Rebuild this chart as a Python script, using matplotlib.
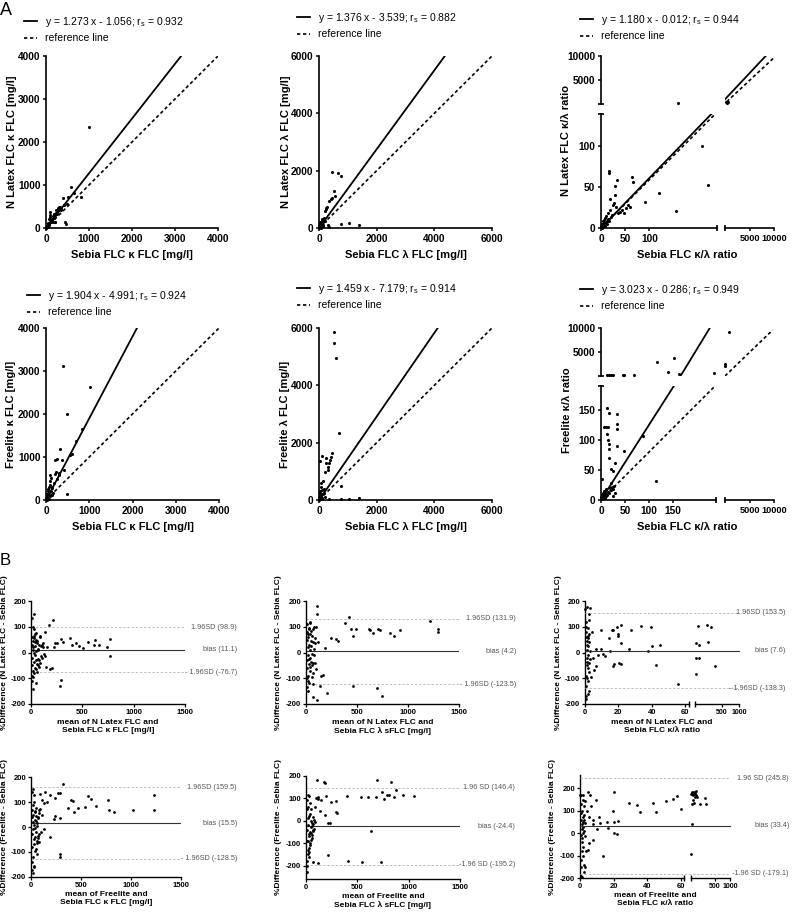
import numpy as np
import matplotlib
matplotlib.use('Agg')
import matplotlib.pyplot as plt
from matplotlib.lines import Line2D
from matplotlib.ticker import NullLocator
from matplotlib.transforms import blended_transform_factory

plt.rcParams['font.family'] = ['Liberation Sans', 'DejaVu Sans']
plt.rcParams['mathtext.fontset'] = 'custom'
plt.rcParams['mathtext.rm'] = 'Liberation Sans'
plt.rcParams['mathtext.it'] = 'Liberation Sans:italic'
plt.rcParams['mathtext.bf'] = 'Liberation Sans:bold'

W, H = 795, 915

# ---------------- A: method comparison (slope, intercept, r_s) ----------------
p1_eq = (1.273, -1.056, 0.932)
p2_eq = (1.376, -3.539, 0.882)
p3_eq = (1.180, -0.012, 0.944)
p4_eq = (1.904, -4.991, 0.924)
p5_eq = (1.459, -7.179, 0.914)
p6_eq = (3.023, -0.286, 0.949)

# N Latex vs Sebia, kappa
p1_x = [5, 8, 12, 15, 18, 22, 25, 30, 35, 40, 45, 50, 55, 60, 65, 70, 75, 80, 85, 90,
        95, 100, 110, 120, 130, 140, 150, 160, 170, 180, 190, 200, 210, 220, 230, 240, 250, 260, 270, 280,
        290, 300, 320, 340, 360, 400, 420, 450, 455, 480, 520, 570, 650, 820, 1000]
p1_y = [10, 5, 20, 12, 30, 15, 40, 25, 50, 60, 35, 80, 120, 70, 90, 110, 200, 95, 250, 370,
        300, 140, 130, 175, 160, 190, 210, 150, 280, 240, 330, 300, 150, 130, 350, 420, 380, 330, 450, 410,
        470, 480, 500, 460, 420, 690, 530, 130, 100, 560, 730, 960, 820, 720, 2350]

# N Latex vs Sebia, lambda
p2_x = [5, 10, 15, 20, 25, 30, 40, 50, 60, 70, 80, 90, 100, 110, 120, 130, 150, 160, 180, 200,
        210, 240, 260, 290, 300, 360, 400, 450, 460, 520, 560, 670, 750, 750, 1030, 1370, 150, 360, 30, 60]
p2_y = [20, 60, 10, 150, 40, 100, 30, 200, 80, 120, 50, 250, 180, 130, 300, 90, 60, 320, 350, 250,
        600, 700, 650, 730, 90, 930, 1010, 1050, 1970, 1300, 1130, 1910, 1830, 150, 175, 95, 60, 35, 180, 5]

# N Latex vs Sebia, ratio (broken axes)
p3_x = [0.5, 1, 1.5, 2, 3, 4, 5, 6, 7, 8, 9, 10, 11, 12, 13, 14, 15, 16, 17, 17,
        18, 19, 20, 22, 24, 26, 28, 29, 30, 34, 36, 40, 44, 48, 52, 56, 60, 64, 66, 92,
        120, 156, 208, 221]
p3_y = [1, 3, 0.5, 5, 2, 8, 4, 10, 6, 3, 12, 7, 15, 9, 5, 18, 11, 8, 70, 67,
        22, 35, 14, 16, 28, 30, 40, 51, 25, 59, 18, 20, 22, 18, 24, 28, 26, 62, 56, 32,
        43, 21, 100, 52]
p3_ul_x = [159]
p3_ul_y = [300]
p3_ur_x = [150, 400, 700]
p3_ur_y = [500, 300, 400]
p3_fit_lo = ([0, 230], [0, 140])
p3_fit_hi = ([0, 8300], [980, 10000])
p3_ref_lo = ([0, 238], [0, 140])
p3_ref_hi = ([350, 9860], [480, 9520])

# Freelite vs Sebia, kappa
p4_x = [5, 8, 12, 15, 20, 25, 30, 35, 40, 50, 60, 70, 80, 90, 95, 100, 110, 120, 130, 150,
        160, 180, 200, 210, 230, 250, 260, 290, 300, 330, 380, 400, 410, 480, 480, 560, 590, 690, 840, 1010,
        70, 100, 140]
p4_y = [15, 40, 8, 60, 100, 30, 150, 200, 50, 250, 120, 300, 180, 450, 580, 360, 520, 200, 270, 300,
        160, 400, 610, 940, 640, 950, 500, 570, 620, 1180, 930, 3110, 700, 2000, 130, 1040, 1070, 1370, 1640, 2630,
        20, 90, 120]

# Freelite vs Sebia, lambda
p5_x = [5, 10, 15, 20, 25, 30, 35, 40, 50, 60, 70, 80, 90, 100, 110, 120, 150, 170, 180, 210,
        240, 250, 300, 320, 350, 380, 400, 450, 510, 530, 600, 700, 760, 750, 1040, 1380, 360, 60, 120, 200]
p5_y = [30, 100, 10, 200, 60, 300, 120, 1350, 250, 460, 150, 580, 80, 350, 200, 1550, 670, 250, 400, 990,
        1450, 1280, 1160, 1040, 1300, 1390, 1510, 1640, 5850, 5460, 4940, 2320, 500, 45, 50, 80, 45, 20, 40, 100]

# Freelite vs Sebia, ratio (broken axes)
p6_x = [0.5, 1, 2, 3, 4, 5, 6, 7, 8, 9, 10, 11, 12, 14, 16, 18, 20, 22, 25, 28,
        2, 6, 10, 14, 13, 16, 34, 13, 34, 33, 15, 17, 17, 34, 48, 87, 17, 21, 24, 29,
        20, 114, 24, 30]
p6_y = [2, 5, 1, 8, 3, 12, 6, 15, 4, 10, 7, 18, 9, 14, 11, 20, 16, 22, 18, 24,
        35, 122, 122, 122, 154, 145, 143, 110, 127, 118, 100, 93, 85, 90, 82, 107, 70, 51, 49, 62,
        28, 32, 6, 12]
p6_ul_x = [12, 17, 21, 26, 45, 49, 69, 117, 153, 139, 163, 235]
p6_ul_y = [300, 300, 300, 300, 300, 300, 250, 2980, 3690, 830, 350, 560]
p6_ur_x = [816, 60, 60]
p6_ur_y = [9170, 2430, 2150]
p6_fit_lo = ([0, 152], [0, 190])
p6_fit_ul = ([166, 227], [0, 10000])
p6_ref_lo = ([0, 238], [0, 190])
p6_ref_hi = ([0, 9730], [0, 9580])

# ---------------- B: Bland-Altman (bias, +1.96SD, -1.96SD) ----------------
p7_stats = (11.1, 98.9, -76.7)
p8_stats = (4.2, 131.9, -123.5)
p9_stats = (7.6, 153.5, -138.3)
p10_stats = (15.5, 159.5, -128.5)
p11_stats = (-24.4, 146.4, -195.2)
p12_stats = (33.4, 245.8, -179.1)

p7_x = [5, 8, 10, 12, 15, 18, 20, 22, 25, 28, 30, 32, 35, 38, 40, 42, 45, 48, 50, 55,
        60, 65, 70, 75, 80, 85, 90, 95, 100, 110, 120, 6, 9, 14, 17, 24, 27, 33, 36, 44,
        52, 58, 62, 68, 72, 78, 88, 105, 115, 125, 32, 20, 45, 140, 172, 211, 150, 188, 200, 220,
        250, 292, 310, 379, 395, 434, 463, 502, 551, 609, 620, 667, 745, 771, 771, 295, 285, 135, 160, 230]
p7_y = [60, -20, 30, -50, 10, 45, -70, 20, 55, -35, 0, 65, -10, 40, -60, 25, -30, 50, 5, -45,
        35, -25, 15, -55, 30, -40, 60, 25, -15, 30, 20, -90, 135, -110, 100, -142, 90, -80, 70, -65,
        75, -75, 45, -50, 10, -30, 65, -20, 35, -5, 151, -95, -120, 80, 108, 128, -55, -65, -60, 22,
        35, 54, 40, 58, 30, 35, 25, 19, 40, 31, 50, 30, 22, 52, -12, -105, -132, -14, 20, 38]

p8_x = [5, 8, 10, 12, 15, 18, 20, 22, 25, 28, 30, 32, 35, 38, 40, 42, 45, 48, 50, 55,
        60, 65, 70, 75, 80, 85, 90, 95, 6, 9, 14, 17, 24, 27, 33, 36, 44, 52, 58, 62,
        68, 72, 78, 88, 100, 104, 111, 121, 143, 170, 65, 140, 72, 111, 202, 186, 245, 293, 316, 381,
        417, 443, 463, 492, 619, 632, 658, 707, 724, 828, 864, 919, 1219, 1294, 1294, 456, 698, 743, 20, 40]
p8_y = [50, -30, 80, -60, 20, -90, 60, -10, 95, -45, 30, -120, 70, -20, 10, -70, 45, -35, 85, -5,
        -50, 40, -80, 100, 15, -40, 55, -65, -135, 110, -100, 70, -150, 90, -25, 115, -55, 25, -95, 65,
        -40, 90, -10, 35, 100, 180, 151, 41, -90, -86, -124, -129, -172, -184, -159, 19, 58, 52, 45, 116,
        138, 90, 63, 90, 93, 86, 77, 90, 89, 75, 63, 86, 124, 92, 80, -129, -139, -169, -110, 120]

p9_x = [0.2, 0.3, 0.4, 0.5, 0.6, 0.7, 0.8, 0.9, 1.0, 1.1, 1.2, 1.3, 1.4, 1.5, 1.6, 1.7, 1.8, 1.9, 2.0, 2.1,
        2.2, 2.3, 2.4, 2.5, 2.6, 2.8, 3.0, 0.5, 1.0, 1.5, 2.9, 2.3, 3.5, 1.9, 1.2, 0.8,
        9.3, 14.6, 16, 17, 19, 21.3, 19.6, 19.8, 21.3, 27.5, 33.6, 39.4, 39.8, 26.2, 9.3, 11, 6.8, 5.2, 6.4,
        17.5, 16.5, 20.4, 21.5, 42.7, 37.8, 45, 55.7, 4, 5, 8, 12, 15]
p9_y = [170, -170, 120, -130, 80, -90, 60, -50, 30, -20, 45, -35, 10, -60, 95, -110, 55, -10, 25, -75,
        150, -150, 70, -40, 40, 5, -25, 100, -100, 65, 174, 128, -97, -163, 175, -180,
        86, 58, 86, 89, 99, 108, 73, 63, 35, 89, 104, 99, 24, 12, 15, -6, 13, -68, -53,
        -45, -53, -40, -43, -49, 6, 31, -123, 80, -20, -10, -15, 5]
p9_hi_x = [64, 64, 66, 83, 92, 100, 198, 220, 272, 344]
p9_hi_y = [-84, -21, 35, 102, 31, -21, 108, 39, 99, -52]

p10_x = [5, 8, 10, 12, 15, 18, 20, 22, 25, 28, 30, 32, 35, 38, 40, 42, 45, 48, 50, 55,
         60, 65, 70, 75, 80, 6, 9, 14, 17, 24, 27, 33, 36, 44, 52, 58, 62, 68, 72, 78,
         20, 27, 86, 143, 186, 236, 320, 266, 286, 93, 110, 226, 236, 286, 126, 186, 293, 286, 369, 399,
         419, 426, 466, 535, 569, 602, 652, 765, 775, 825, 1024, 1231, 1231, 100, 130, 155, 45, 60, 80, 110]
p10_y = [40, -30, 70, -80, 20, -120, 50, -10, 130, -50, 10, -160, 60, -40, 30, -95, 75, -20, 45, -65,
         5, -45, 35, -30, 55, -175, 140, -140, 90, -185, 100, -70, 65, -5, 25, -55, 15, 40, -35, 70,
         151, -156, 133, 140, 127, 116, 175, 135, 138, 73, 49, 33, 44, 37, -9, -40, -107, -122, 77, 107,
         103, 60, 77, 80, 124, 113, 84, 107, 69, 60, 69, 127, 69, -20, 95, 100, -90, -110, -60, 110]

p11_x = [5, 8, 10, 12, 15, 18, 20, 22, 25, 28, 30, 32, 35, 38, 40, 42, 45, 48, 50, 55,
         60, 65, 70, 75, 6, 9, 14, 17, 24, 27, 33, 36, 44, 52, 58, 62, 68, 72, 78, 88,
         104, 175, 185, 695, 825, 873, 23, 114, 94, 195, 403, 532, 607, 679, 737, 786, 812, 860, 948, 1055,
         763, 289, 244, 136, 289, 299, 182, 211, 234, 636, 32, 71, 114, 218, 406, 549, 727, 90, 120, 150]
p11_y = [50, -40, 90, -90, 10, -130, 60, -20, 110, -60, 20, -160, 80, -50, 30, -110, 50, -30, 0, -75,
         -10, -45, 15, -35, -200, -230, -180, -150, -90, -70, -120, -100, -85, -55, -25, -65, -15, -40, 5, -5,
         182, 173, 166, 182, 173, 138, 114, 107, 101, 111, 111, 107, 107, 107, 129, 116, 115, 107, 114, 111,
         96, 86, 84, 44, 40, 34, 25, -10, -12, -44, -141, -184, -190, -152, -181, -185, -185, 60, 95, 90]

p12_x = [0.2, 0.3, 0.4, 0.5, 0.6, 0.7, 0.8, 0.9, 1.0, 1.1, 1.2, 1.3, 1.4, 1.5, 1.6, 1.7, 1.8, 1.9, 2.0, 2.1,
         2.2, 2.3, 2.4, 2.5, 2.6, 2.8, 3.0, 0.5, 1.0, 1.5, 0.4, 2.0, 4.7, 6.1, 2.7, 9.6, 11.2, 6.7, 5.5, 7.8,
         16.3, 16.9, 20, 19.8, 20.4, 22.4, 20.4, 22, 7.5, 5.5, 4.5, 13.7, 2.7, 29, 33.7, 35.7, 43.5, 45.3, 51, 55.7,
         58, 60, 4, 8, 10, 3.5, 12]
p12_y = [170, -190, 130, -150, 90, -120, 60, -80, 40, -40, 20, -20, 100, -60, 75, -100, 50, 0, 30, -170,
         120, -140, 80, 10, 60, -10, 45, -5, -195, 150, 171, 171, 186, 171, 146, 149, 74, 122, 71, 40,
         52, 25, 183, 101, 52, 57, 3, -4, -30, -42, -74, -101, -149, 137, 125, 94, 134, 94, 146, 153,
         167, 109, 100, 60, 20, -80, 45]
p12_hi_x = [62, 67, 75, 71, 90, 97, 107, 114, 65, 90, 65, 60, 173, 286, 262, 114, 131, 80, 100, 85]
p12_hi_y = [176, 181, 176, 186, 186, 176, 164, 171, 131, 134, 42, -94, 131, 131, 159, 189, 164, 170, 180, 150]

fig = plt.figure(figsize=(W / 100, H / 100), dpi=100)

DASH_A = (0, (2, 1.6))
DASH_B = (0, (3, 2))


def add_ax(l, t, r, b):
    return fig.add_axes([l / W, 1 - b / H, (r - l) / W, (b - t) / H])


def style(ax, fs, tlen, lw, left=True, bottom=True):
    for s in ('top', 'right'):
        ax.spines[s].set_visible(False)
    ax.spines['left'].set_visible(left)
    ax.spines['bottom'].set_visible(bottom)
    for s in ('left', 'bottom'):
        ax.spines[s].set_linewidth(lw)
    ax.tick_params(direction='out', length=tlen, width=lw * 0.9, pad=1.5, labelsize=fs,
                   left=left, labelleft=left, bottom=bottom, labelbottom=bottom)
    ax.patch.set_alpha(0)


def ticks(ax, xt=None, yt=None, fs=7.3):
    if xt is not None:
        ax.set_xticks(xt, [str(v) for v in xt], fontsize=fs, fontweight='bold')
    if yt is not None:
        ax.set_yticks(yt, [str(v) for v in yt], fontsize=fs, fontweight='bold')


def cap(ax, x, y, vertical, lw=1.2):
    bb = ax.get_position()
    if vertical:
        d = 3.0 / (bb.height * H)
        ax.plot([x, x], [y - d, y + d], transform=ax.transAxes, color='black', lw=lw,
                clip_on=False, solid_capstyle='butt')
    else:
        d = 3.0 / (bb.width * W)
        ax.plot([x - d, x + d], [y, y], transform=ax.transAxes, color='black', lw=lw,
                clip_on=False, solid_capstyle='butt')


def ftext(x, y, s, **kw):
    fig.text(x / W, 1 - y / H, s, **kw)


def fit_legend(x, y, eq):
    m, b, rs = eq
    sign = '-' if b < 0 else '+'
    lab = f'y = {m:.3f} x {sign} {abs(b):.3f}; r$_\\mathregular{{s}}$ = {rs:.3f}'
    handles = [Line2D([], [], color='black', lw=1.3),
               Line2D([], [], color='black', lw=1.2, ls=DASH_A)]
    fig.legend(handles, [lab, 'reference line'], loc='upper left',
               bbox_to_anchor=(x / W, 1 - y / H), bbox_transform=fig.transFigure,
               frameon=False, fontsize=7.5, handlelength=1.2, handletextpad=0.8,
               labelspacing=0.4, borderpad=0, borderaxespad=0)


def scatter_a(box, xs, ys, eq, lim, tk, xlabel, ylabel, ylab_x, leg):
    ax = add_ax(*box)
    style(ax, 7.3, 2.5, 1.2)
    ax.set_xlim(0, lim)
    ax.set_ylim(0, lim)
    ticks(ax, tk, tk)
    m, b, _ = eq
    x_end = min(lim, (lim - b) / m)
    ax.plot([0, x_end], [b, m * x_end + b], color='black', lw=1.3, zorder=2)
    ax.plot([0, lim], [0, lim], color='black', lw=1.2, ls=DASH_A, zorder=2)
    ax.scatter(xs, ys, s=5, c='black', linewidths=0, zorder=3, clip_on=False)
    l, t, r, bt = box
    ftext((l + r) / 2, bt + 27, xlabel, ha='center', va='center', fontsize=8, fontweight='bold')
    ftext(ylab_x, (t + bt) / 2, ylabel, ha='center', va='center', rotation=90,
          fontsize=8, fontweight='bold')
    fit_legend(leg[0], leg[1], eq)
    return ax


def broken_a(xl, xbl, xbr, xr, yt, ybt, ybb, yb, lo_x, lo_y, lo_xt, lo_yt):
    ll = add_ax(xl, ybb, xbl, yb)
    lr = add_ax(xbr, ybb, xr, yb)
    ul = add_ax(xl, yt, xbl, ybt)
    ur = add_ax(xbr, yt, xr, ybt)
    style(ll, 7.3, 2.5, 1.2)
    style(lr, 7.3, 2.5, 1.2, left=False)
    style(ul, 7.3, 2.5, 1.2, bottom=False)
    style(ur, 7.3, 2.5, 1.2, left=False, bottom=False)
    ll.set_xlim(0, lo_x)
    ll.set_ylim(0, lo_y)
    lr.set_xlim(0, 10000)
    lr.set_ylim(0, lo_y)
    ul.set_xlim(0, lo_x)
    ul.set_ylim(0, 10000)
    ur.set_xlim(0, 10000)
    ur.set_ylim(0, 10000)
    ticks(ll, lo_xt, lo_yt)
    ticks(lr, [5000, 10000], None, fs=6.6)
    ticks(ul, None, [5000, 10000])
    cap(ll, 0, 1, False)
    cap(ll, 1, 0, True)
    cap(lr, 0, 0, True)
    cap(ul, 0, 0, False)
    return ll, lr, ul, ur


def dots_a(ax, xs, ys):
    ax.scatter(xs, ys, s=5, c='black', linewidths=0, zorder=3, clip_on=False)


# ---------------- panel A ----------------
ftext(0, 2, 'A', fontsize=13, va='top', ha='left')

scatter_a((46, 56, 218, 228), p1_x, p1_y, p1_eq, 4000, [0, 1000, 2000, 3000, 4000],
          'Sebia FLC κ FLC [mg/l]', 'N Latex FLC κ FLC [mg/l]', 12, (24, 15))
scatter_a((319, 56, 492, 228), p2_x, p2_y, p2_eq, 6000, [0, 2000, 4000, 6000],
          'Sebia FLC λ FLC [mg/l]', 'N Latex FLC λ FLC [mg/l]', 286, (297, 11))
scatter_a((46, 328, 219, 500), p4_x, p4_y, p4_eq, 4000, [0, 1000, 2000, 3000, 4000],
          'Sebia FLC κ FLC [mg/l]', 'Freelite κ FLC [mg/l]', 11, (27, 289))
scatter_a((319, 328, 492, 500), p5_x, p5_y, p5_eq, 6000, [0, 2000, 4000, 6000],
          'Sebia FLC λ FLC [mg/l]', 'Freelite λ FLC [mg/l]', 285, (297, 282))

# ratio N Latex
ll, lr, ul, ur = broken_a(601, 717, 725, 774, 56, 104, 114, 228, 240, 139, [0, 50, 100], [0, 50, 100])
ll.plot(*p3_fit_lo, color='black', lw=1.3, zorder=2)
ll.plot(*p3_ref_lo, color='black', lw=1.2, ls=DASH_A, zorder=2)
ur.plot(*p3_fit_hi, color='black', lw=1.3, zorder=2)
ur.plot(*p3_ref_hi, color='black', lw=1.2, ls=DASH_A, zorder=2)
dots_a(ll, p3_x, p3_y)
dots_a(ul, p3_ul_x, p3_ul_y)
dots_a(ur, p3_ur_x, p3_ur_y)
ftext(687, 255, 'Sebia FLC κ/λ ratio', ha='center', va='center', fontsize=8, fontweight='bold')
ftext(566, 140, 'N Latex FLC κ/λ ratio', ha='center', va='center', rotation=90, fontsize=8, fontweight='bold')
fit_legend(580, 13, p3_eq)

# ratio Freelite
ll, lr, ul, ur = broken_a(601, 716, 725, 774, 328, 376, 386, 500, 240, 190,
                          [0, 50, 100, 150], [0, 50, 100, 150])
ll.plot(*p6_fit_lo, color='black', lw=1.3, zorder=2)
ul.plot(*p6_fit_ul, color='black', lw=1.3, zorder=2)
ll.plot(*p6_ref_lo, color='black', lw=1.2, ls=DASH_A, zorder=2)
ur.plot(*p6_ref_hi, color='black', lw=1.2, ls=DASH_A, zorder=2)
dots_a(ll, p6_x, p6_y)
dots_a(ul, p6_ul_x, p6_ul_y)
dots_a(ur, p6_ur_x, p6_ur_y)
ftext(687, 527, 'Sebia FLC κ/λ ratio', ha='center', va='center', fontsize=8, fontweight='bold')
ftext(567, 410, 'Freelite κ/λ ratio', ha='center', va='center', rotation=90, fontsize=8, fontweight='bold')
fit_legend(580, 283, p6_eq)

# ---------------- panel B ----------------
ftext(0, 553, 'B', fontsize=12, va='top', ha='left')

BIAS_KW = dict(color='#333333', lw=0.8, zorder=2)
SD_KW = dict(color='#b4b4b4', lw=0.6, ls=DASH_B, zorder=1)


def annotate_ba(ax, x_right, stats, texts):
    tr = blended_transform_factory(fig.transFigure, ax.transData)
    bias, hi, lo = stats
    for val, s in zip((hi, bias, lo), texts):
        fig.text(x_right / W, val, s, transform=tr, ha='right', va='center',
                 fontsize=5.2, color='#555555')


def labels_ba(cx, top, xlabel, ylx, yly, ylabel):
    ftext(cx, top, xlabel, ha='center', va='top', fontsize=6, fontweight='bold', linespacing=1.25)
    ftext(ylx, yly, ylabel, ha='center', va='center', rotation=90, fontsize=6, fontweight='bold')


def ba_simple(box, xs, ys, ylim, stats, x_right, texts, xlabel, ylabel, ylx, xl_top):
    ax = add_ax(*box)
    style(ax, 5.5, 2.0, 1.0)
    ax.set_xlim(0, 1500)
    ax.set_ylim(*ylim)
    ticks(ax, [0, 500, 1000, 1500], [-200, -100, 0, 100, 200], fs=5.5)
    bias, hi, lo = stats
    ax.axhline(bias, **BIAS_KW)
    ax.axhline(hi, **SD_KW)
    ax.axhline(lo, **SD_KW)
    ax.scatter(xs, ys, s=4, c='black', linewidths=0, zorder=3, clip_on=False)
    annotate_ba(ax, x_right, stats, texts)
    l, t, r, b = box
    labels_ba((l + r) / 2, xl_top, xlabel, ylx, (t + b) / 2, ylabel)


def span(ax_l, ax_r, y, **kw):
    inv = fig.transFigure.inverted()
    a = inv.transform(ax_l.transData.transform((ax_l.get_xlim()[0], y)))
    c = inv.transform(ax_r.transData.transform((ax_r.get_xlim()[1], y)))
    fig.add_artist(Line2D([a[0], c[0]], [a[1], c[1]], transform=fig.transFigure, **kw))


def ba_broken(xl, xbl, xbr, xr, t, b, xs, ys, hx, hy, ylim, stats, x_right, texts,
              xlabel, ylabel, ylx, xl_top):
    al = add_ax(xl, t, xbl, b)
    ar = add_ax(xbr, t, xr, b)
    style(al, 5.5, 2.0, 1.0)
    style(ar, 5.5, 2.0, 1.0, left=False)
    al.set_xlim(0, 62)
    al.set_ylim(*ylim)
    # compressed upper segment of the broken x axis
    ar.set_xscale('function', functions=(np.sqrt, np.square))
    ar.set_xlim(60, 1000)
    ar.set_ylim(*ylim)
    ticks(al, [0, 20, 40, 60], [-200, -100, 0, 100, 200], fs=5.5)
    ticks(ar, [500, 1000], None, fs=5.0)
    ar.xaxis.set_minor_locator(NullLocator())
    cap(al, 1, 0, True, lw=1.0)
    cap(ar, 0, 0, True, lw=1.0)
    bias, hi, lo = stats
    span(al, ar, bias, **BIAS_KW)
    span(al, ar, hi, **SD_KW)
    span(al, ar, lo, **SD_KW)
    al.scatter(xs, ys, s=4, c='black', linewidths=0, zorder=3, clip_on=False)
    ar.scatter(hx, hy, s=4, c='black', linewidths=0, zorder=3, clip_on=False)
    annotate_ba(al, x_right, stats, texts)
    labels_ba((xl + xr) / 2, xl_top, xlabel, ylx, (t + b) / 2, ylabel)


YL_N = '%Difference (N Latex FLC - Sebia FLC)'
YL_F = '%Difference (Freelite - Sebia FLC)'

ba_simple((31, 601, 185, 704), p7_x, p7_y, (-200, 200), p7_stats, 237,
          ['1.96SD (98.9)', 'bias (11.1)', '- 1.96SD (-76.7)'],
          'mean of N Latex FLC and\nSebia FLC κ FLC [mg/l]', YL_N, 5, 719)
ba_simple((306, 601, 459, 704), p8_x, p8_y, (-200, 200), p8_stats, 516,
          ['1.96SD (131.9)', 'bias (4.2)', '- 1.96SD (-123.5)'],
          'mean of N Latex FLC and\nSebia FLC λ sFLC [mg/l]', YL_N, 279, 719)
ba_broken(585, 688.7, 695.3, 739, 601, 704, p9_x, p9_y, p9_hi_x, p9_hi_y, (-200, 200), p9_stats, 785,
          ['1.96SD (153.5)', 'bias (7.6)', '- 1.96SD (-138.3)'],
          'mean of N Latex FLC and\nSebia FLC κ/λ ratio', YL_N, 558, 719)
ba_simple((31, 777.3, 181, 876.7), p10_x, p10_y, (-200, 200), p10_stats, 237,
          ['1.96SD (159.5)', 'bias (15.5)', '- 1.96SD (-128.5)'],
          'mean of Freelite and\nSebia FLC κ FLC [mg/l]', YL_F, 5, 891)
ba_simple((306, 775.7, 460, 879.2), p11_x, p11_y, (-260, 200), p11_stats, 515,
          ['1.96 SD (146.4)', 'bias (-24.4)', '-1.96 SD (-195.2)'],
          'mean of Freelite and\nSebia FLC λ sFLC [mg/l]', YL_F, 279, 893)
ba_broken(580, 684, 691, 730, 775, 878.3, p12_x, p12_y, p12_hi_x, p12_hi_y, (-200, 260), p12_stats, 789,
          ['1.96 SD (245.8)', 'bias (33.4)', '-1.96 SD (-179.1)'],
          'mean of Freelite and\nSebia FLC κ/λ ratio', YL_F, 553, 892)

plt.savefig('out.png', dpi=100)
